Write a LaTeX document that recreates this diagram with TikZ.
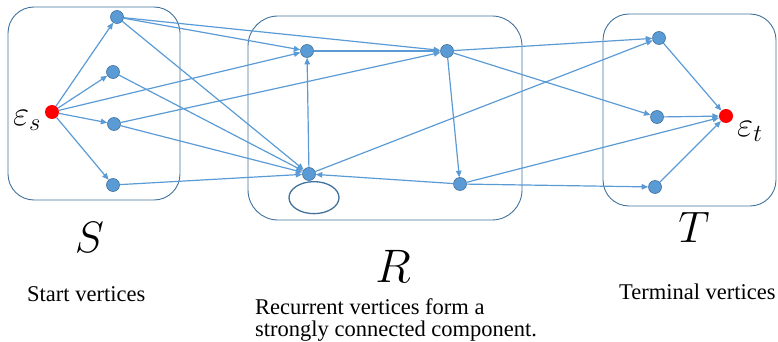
\RequirePackage{fix-cm}
\documentclass[tikz,border=0pt]{standalone}
\usepackage{fontspec}
\setmainfont{Liberation Serif}
\usetikzlibrary{arrows.meta,shapes.geometric}
\definecolor{eblue}{HTML}{5B9BD5}
\definecolor{dblue}{HTML}{41719C}
\begin{document}
\begin{tikzpicture}[x=1pt,y=-1pt,
  vtx/.style={circle,fill=eblue,draw=dblue,line width=0.6pt,minimum size=13pt,inner sep=0pt},
  term/.style={circle,fill=red,draw=none,minimum size=14pt,inner sep=0pt},
  grp/.style={draw=dblue,line width=0.9pt,rounded corners=26pt,rectangle,inner sep=0pt},
  edge/.style={draw=eblue,line width=1.2pt,-{Triangle[length=6.5pt,width=5.5pt]}},
  lbl/.style={inner sep=0pt,font=\fontsize{22.5}{22}\selectfont},
  setname/.style={inner sep=0pt,font=\fontsize{44}{44}\selectfont},
  eps/.style={inner sep=0pt,anchor=base west,font=\fontsize{35}{35}\selectfont},
]
\useasboundingbox (0,0) rectangle (778,342);
% group boxes
\node[grp,minimum width=172pt,minimum height=193pt] (Sbox) at (94,103.5) {};
\node[grp,minimum width=274pt,minimum height=204pt,rounded corners=30pt] (Rbox) at (385,118) {};
\node[grp,minimum width=173pt,minimum height=192pt] (Tbox) at (689.5,110) {};
% vertices
\node[term] (es) at (52,112) {};
\node[vtx] (s1) at (117,17) {};
\node[vtx] (s2) at (113,72) {};
\node[vtx] (s3) at (114,124) {};
\node[vtx] (s4) at (113,185) {};
\node[vtx] (r1) at (307,51) {};
\node[vtx] (r2) at (447,51) {};
\node[vtx] (r3) at (309,174) {};
\node[vtx] (r4) at (460,184) {};
\node[vtx] (t1) at (659,38) {};
\node[vtx] (t2) at (657,117) {};
\node[vtx] (t3) at (655,187) {};
\node[term] (et) at (726,116) {};
% self loop
\node[ellipse,draw=dblue,line width=1.3pt,minimum width=50pt,minimum height=32pt,inner sep=0pt,anchor=north] (loop) at (314,181) {};
% edges
\draw[edge] (es) -- (s1);
\draw[edge] (es) -- (s2);
\draw[edge] (es) -- (s3);
\draw[edge] (es) -- (s4);
\draw[edge] (es) -- (r1);
\draw[edge] (s1) -- (r2);
\draw[edge] (s1) -- (r1);
\draw[edge] (s1) -- (r3);
\draw[edge] (s2) -- (r3);
\draw[edge] (s3) -- (r2);
\draw[edge] (s3) -- (r3);
\draw[edge] (s4) -- (r3);
\draw[edge] (r3) -- (r1);
\draw[edge] (r1) -- (r2);
\draw[edge] (r2) -- (r4);
\draw[edge] (r4) -- (r3);
\draw[edge] (r3) -- (t1);
\draw[edge] (r2) -- (t1);
\draw[edge] (r2) -- (t2);
\draw[edge] (r4) -- (t3);
\draw[edge] (r4) -- (et);
\draw[edge] (t1) -- (et);
\draw[edge] (t2) -- (et);
\draw[edge] (t3) -- (et);
% labels
\node[eps] (eslbl) at (13,125) {$\varepsilon_s$};
\node[eps] (etlbl) at (737,136) {$\varepsilon_t$};
\node[setname,anchor=base] (Slbl) at (89.5,252) {$S$};
\node[setname,anchor=base,font=\fontsize{47}{47}\selectfont] (Rlbl) at (393,282) {$R$};
\node[setname,anchor=base] (Tlbl) at (694,242) {$T$};
\node[lbl,anchor=base west] (startlbl) at (27,301) {Start vertices};
\node[lbl,anchor=base west,align=left] (reclbl) at (255,336) {Recurrent vertices form a\\strongly connected component.};
\node[lbl,anchor=base west] (termlbl) at (619,299) {Terminal vertices};
\end{tikzpicture}
\end{document}
